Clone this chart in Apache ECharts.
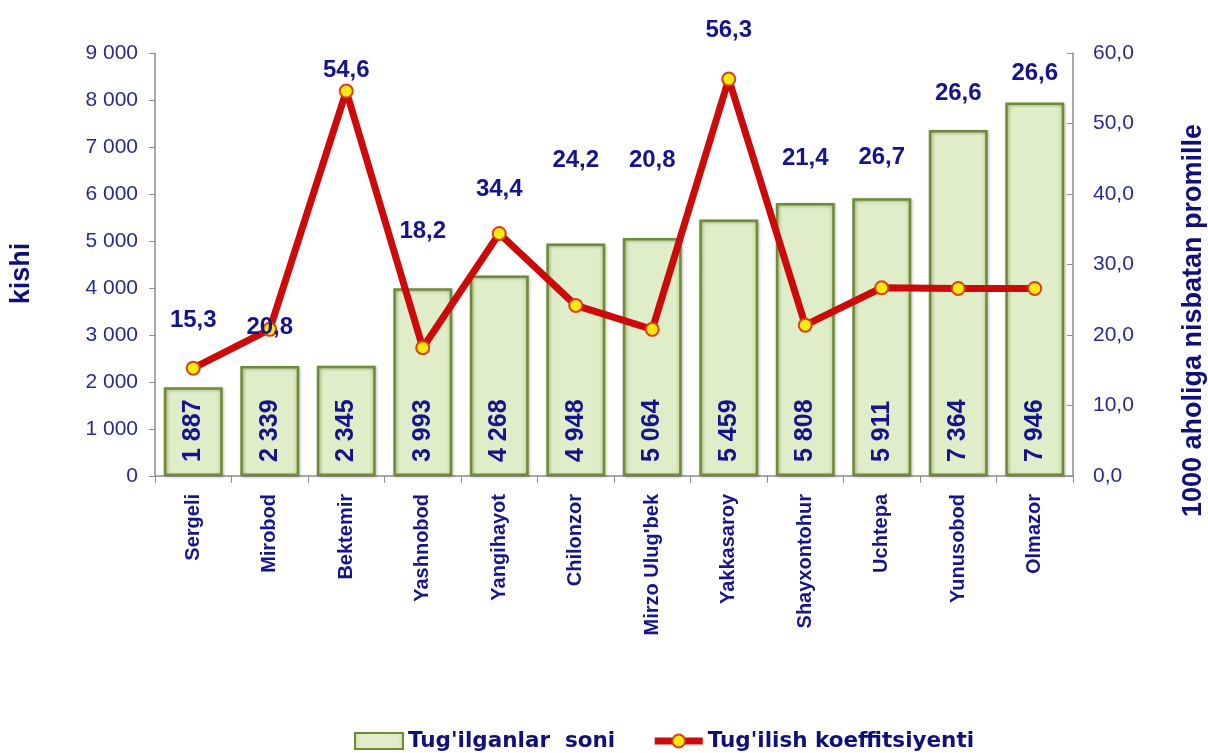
<!DOCTYPE html>
<html>
<head>
<meta charset="utf-8">
<script src="https://cdn.jsdelivr.net/npm/echarts@6/dist/echarts.min.js"></script>
<style>
  html, body { margin: 0; padding: 0; background: #fff; }
  #chart { width: 1208px; height: 753px; }
</style>
</head>
<body>
<div id="chart"></div>
<script>
// tumanlar
var districts = ['Sergeli', 'Mirobod', 'Bektemir', 'Yashnobod', 'Yangihayot', 'Chilonzor',
    'Mirzo Ulug\'bek', 'Yakkasaroy', 'Shayxontohur', 'Uchtepa', 'Yunusobod', 'Olmazor'];
// tug'ilganlar soni (kishi)
var births = [1887, 2339, 2345, 3993, 4268, 4948, 5064, 5459, 5808, 5911, 7364, 7946];
// tug'ilish koeffitsiyenti (promille)
var birthRate = [15.3, 20.8, 54.6, 18.2, 34.4, 24.2, 20.8, 56.3, 21.4, 26.7, 26.6, 26.6];

var leftTicks = [0, 1000, 2000, 3000, 4000, 5000, 6000, 7000, 8000, 9000];
var rightTicks = [0, 10, 20, 30, 40, 50, 60];

// label shifts (px) for the rate labels, as placed in the original
var rateLabelShift = [-48, -2, -21, -116, -44, -145, -169, -49, -167, -130, -195, -215];

var navy = '#16168a';
var tickNavy = '#2a2a8c';

function spaced(n) {
    return String(n).replace(/\B(?=(\d{3})+(?!\d))/g, ' ');
}
function comma(v) {
    return v.toFixed(1).replace('.', ',');
}

var chart = echarts.init(document.getElementById('chart'));

var barFill = new echarts.graphic.LinearGradient(0, 0, 1, 0, [
    { offset: 0, color: '#c9dfa3' },
    { offset: 0.12, color: '#dfeec9' },
    { offset: 0.88, color: '#dfeec9' },
    { offset: 1, color: '#c6dc9f' }
]);

var option = {
    backgroundColor: '#fff',
    animation: false,
    grid: { left: 155, right: 135, top: 53, bottom: 277, outerBoundsMode: 'none' },
    legend: {
        top: 725,
        left: 349,
        itemGap: 36,
        itemWidth: 48,
        itemHeight: 16,
        textStyle: { color: '#10107a', fontFamily: 'DejaVu Sans', fontWeight: 'bold', fontSize: 21.5 },
        data: [
            { name: 'Tug\'ilganlar  soni', icon: 'rect' },
            { name: 'Tug\'ilish koeffitsiyenti', lineStyle: { width: 7 } }
        ]
    },
    xAxis: {
        type: 'category',
        data: districts,
        axisLine: { lineStyle: { color: '#8c8c8c', width: 1.5 } },
        axisTick: { show: true, length: 7, lineStyle: { color: '#8c8c8c' } },
        axisLabel: {
            rotate: 90,
            margin: 18,
            interval: 0,
            color: navy,
            fontFamily: 'Liberation Sans',
            fontWeight: 'bold',
            fontSize: 20
        }
    },
    yAxis: [
        {
            type: 'value',
            min: leftTicks[0],
            max: leftTicks[leftTicks.length - 1],
            interval: 1000,
            name: 'kishi',
            nameLocation: 'middle',
            nameRotate: 90,
            nameGap: 120,
            nameTextStyle: {
                color: '#10107a', fontFamily: 'Liberation Sans', fontWeight: 'bold', fontSize: 27,
                padding: [0, 0, 0, -18]
            },
            axisLine: { show: true, lineStyle: { color: '#8c8c8c', width: 1.5 } },
            axisTick: { show: true, length: 6, lineStyle: { color: '#8c8c8c' } },
            splitLine: { show: false },
            axisLabel: {
                margin: 17,
                color: tickNavy,
                fontFamily: 'Liberation Sans',
                fontSize: 21,
                formatter: function (v) { return spaced(v); }
            }
        },
        {
            type: 'value',
            min: rightTicks[0],
            max: rightTicks[rightTicks.length - 1],
            interval: 10,
            position: 'right',
            name: '1000 aholiga nisbatan promille',
            nameLocation: 'middle',
            nameRotate: 90,
            nameGap: 107,
            nameTextStyle: {
                color: '#10107a', fontFamily: 'Liberation Sans', fontWeight: 'bold', fontSize: 27,
                padding: [0, 0, 0, -112]
            },
            axisLine: { show: true, lineStyle: { color: '#8c8c8c', width: 1.5 } },
            axisTick: { show: true, inside: true, length: 6, lineStyle: { color: '#8c8c8c' } },
            splitLine: { show: false },
            axisLabel: {
                margin: 20,
                color: tickNavy,
                fontFamily: 'Liberation Sans',
                fontSize: 21,
                formatter: function (v) { return comma(v); }
            }
        }
    ],
    series: [
        {
            name: 'Tug\'ilganlar  soni',
            type: 'bar',
            yAxisIndex: 0,
            barCategoryGap: '23%',
            data: births,
            itemStyle: {
                color: barFill,
                borderColor: '#6f8b36',
                borderWidth: 2.5,
                shadowColor: 'rgba(0,0,0,0.25)',
                shadowBlur: 3,
                shadowOffsetX: 1,
                shadowOffsetY: 1
            },
            label: {
                show: true,
                position: 'insideBottom',
                rotate: 90,
                align: 'left',
                verticalAlign: 'middle',
                distance: 14,
                color: '#14148c',
                fontFamily: 'Liberation Sans',
                fontWeight: 'bold',
                fontSize: 25,
                formatter: function (p) { return spaced(p.value); }
            }
        },
        {
            name: 'Tug\'ilish koeffitsiyenti',
            type: 'line',
            yAxisIndex: 1,
            z: 5,
            data: birthRate.map(function (v, i) {
                return {
                    value: v,
                    label: { offset: [0, rateLabelShift[i]] }
                };
            }),
            lineStyle: { color: '#cc0a0a', width: 7 },
            itemStyle: { color: '#f5ea10', borderColor: '#d8401a', borderWidth: 2 },
            symbol: 'circle',
            symbolSize: 13,
            label: {
                show: true,
                position: 'inside',
                color: '#14148c',
                fontFamily: 'Liberation Sans',
                fontWeight: 'bold',
                fontSize: 24,
                formatter: function (p) { return comma(p.value); }
            }
        }
    ]
};

chart.setOption(option);
window.addEventListener('resize', chart.resize);
</script>
</body>
</html>
